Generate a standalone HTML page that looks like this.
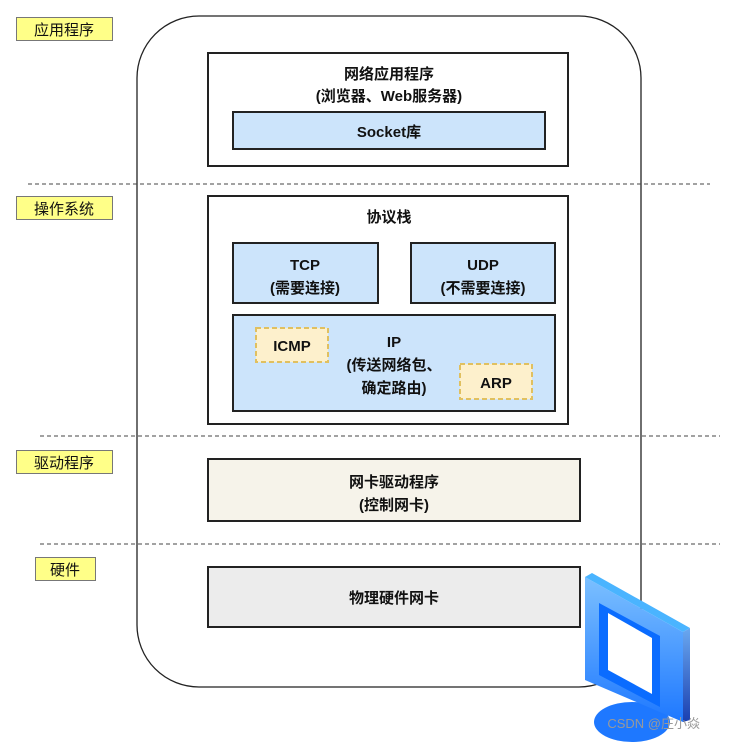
<!DOCTYPE html>
<html><head><meta charset="utf-8"><style>
body{margin:0;width:755px;height:742px;background:#fff;overflow:hidden}
svg text{font-family:"Liberation Sans","Noto Sans CJK SC",sans-serif;font-size:15px;fill:#111;text-anchor:middle}
</style></head><body>
<svg width="755" height="742" viewBox="0 0 755 742" xmlns="http://www.w3.org/2000/svg">
<defs>
<linearGradient id="mg" x1="0" y1="0" x2="0" y2="1"><stop offset="0" stop-color="#7cc0ff"/><stop offset="1" stop-color="#1e78ff"/></linearGradient>
<linearGradient id="sg" x1="0" y1="0" x2="0" y2="1"><stop offset="0" stop-color="#6aa8f0"/><stop offset="1" stop-color="#1a3fb0"/></linearGradient>
</defs>
<rect x="137" y="16" width="504" height="671" rx="62" fill="none" stroke="#222" stroke-width="1.3"/>
<g stroke="#444" stroke-width="1" stroke-dasharray="4,3">
<line x1="28" y1="184" x2="710" y2="184"/>
<line x1="40" y1="436" x2="720" y2="436"/>
<line x1="40" y1="544" x2="720" y2="544"/>
</g>
<g stroke="#777" stroke-width="1" fill="#ffff88">
<rect x="16.5" y="17.5" width="96" height="23"/>
<rect x="16.5" y="196.5" width="96" height="23"/>
<rect x="16.5" y="450.5" width="96" height="23"/>
<rect x="35.5" y="557.5" width="60" height="23"/>
</g>
<g style="font-size:16px">
<text x="64" y="35">应用程序</text>
<text x="64" y="214">操作系统</text>
<text x="64" y="468">驱动程序</text>
<text x="65" y="575">硬件</text>
</g>
<g stroke="#222" stroke-width="2">
<rect x="208" y="53" width="360" height="113" fill="#fff"/>
<rect x="233" y="112" width="312" height="37" fill="#cce4fb"/>
<rect x="208" y="196" width="360" height="228" fill="#fff"/>
<rect x="233" y="243" width="145" height="60" fill="#cce4fb"/>
<rect x="411" y="243" width="144" height="60" fill="#cce4fb"/>
<rect x="233" y="315" width="322" height="96" fill="#cce4fb"/>
<rect x="208" y="459" width="372" height="62" fill="#f6f3ea"/>
<rect x="208" y="567" width="372" height="60" fill="#ececec"/>
</g>
<g stroke="#e0c060" stroke-width="2" stroke-dasharray="5,3" fill="#fdf0cc">
<rect x="256" y="328" width="72" height="34"/>
<rect x="460" y="364" width="72" height="35"/>
</g>
<g style="font-weight:bold">
<text x="389" y="79">网络应用程序</text>
<text x="389" y="101">(浏览器、Web服务器)</text>
<text x="389" y="137">Socket库</text>
<text x="389" y="222">协议栈</text>
<text x="305" y="270">TCP</text>
<text x="305" y="293">(需要连接)</text>
<text x="483" y="270">UDP</text>
<text x="483" y="293">(不需要连接)</text>
<text x="292" y="351">ICMP</text>
<text x="496" y="388">ARP</text>
<text x="394" y="347">IP</text>
<text x="394" y="370">(传送网络包、</text>
<text x="394" y="393">确定路由)</text>
<text x="394" y="487">网卡驱动程序</text>
<text x="394" y="510">(控制网卡)</text>
<text x="394" y="603">物理硬件网卡</text>
</g>
<ellipse cx="632" cy="722" rx="38" ry="20" fill="#1e78ff"/>
<polygon points="585,577 683,632 683,722 585,680" fill="url(#mg)"/>
<polygon points="592,573 690,628 683,632 585,577" fill="#4ab4ff"/>
<polygon points="683,632 690,628 690,720 683,722" fill="url(#sg)"/>
<polygon points="599,603 660,636 660,707 599,675" fill="#0a6cff"/>
<polygon points="608,613 652,638 652,694 608,670" fill="#fff"/>
<text x="700" y="728" style="font-size:13px;fill:#999;text-anchor:end;font-weight:normal">CSDN @庄小焱</text>
</svg>
</body></html>
